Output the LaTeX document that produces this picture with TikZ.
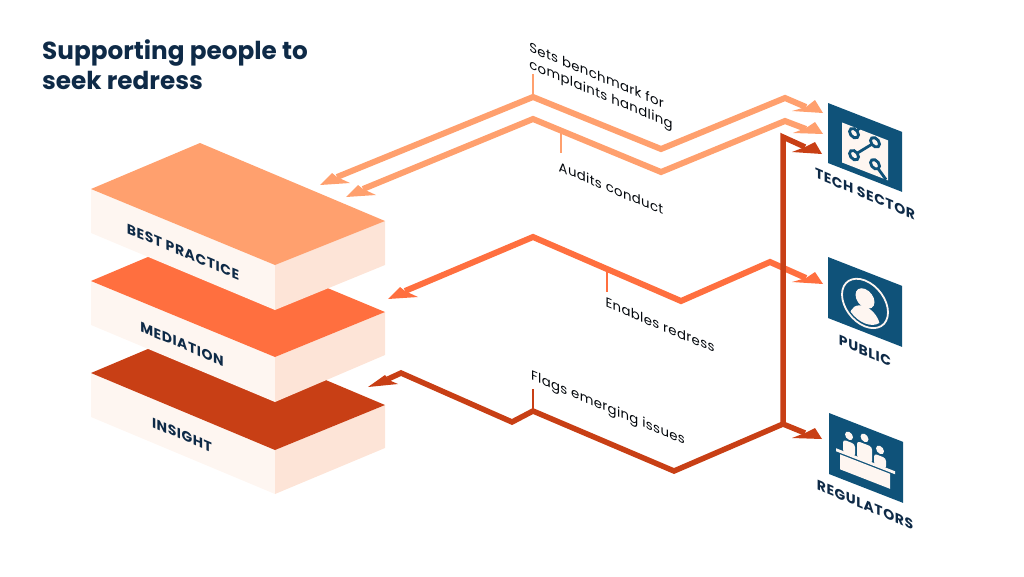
\documentclass[tikz,border=0pt]{standalone}
\usepackage{fontspec}
\setmainfont{Poppins}[LetterSpace=2.5]
\newfontfamily\headfont{Poppins}
\newfontfamily\capsfont{Poppins}[LetterSpace=4]
\definecolor{navy}{HTML}{0E2A47}
\definecolor{iconblue}{HTML}{0F5279}
\definecolor{paper}{HTML}{FEF6F1}
\definecolor{sidepaper}{HTML}{FDE4D7}
\definecolor{bestcol}{HTML}{FFA06E}
\definecolor{medcol}{HTML}{FF6F3F}
\definecolor{inscol}{HTML}{C83F15}

% tip, lower barb, notch, upper barb
\newcommand{\arrowtip}[5]{\fill[#1] (#2) -- (#3) -- (#4) -- (#5) -- cycle;}

\begin{document}
\begin{tikzpicture}[x=1pt,y=-1pt,
    route/.style={line width=6pt,miter limit=10},
    tick/.style={line width=1.6pt},
    edgelabel/.style={yslant=-0.42,transform shape,text=black!85!navy,font=\fontsize{13.3}{17}\selectfont,inner sep=0pt,align=left},
    slablabel/.style={yslant=-0.42,transform shape,text=navy,font=\capsfont\fontsize{14}{15}\selectfont\bfseries,inner sep=0pt},
    iconlabel/.style={yslant=-0.42,transform shape,text=navy,font=\capsfont\fontsize{14}{15}\selectfont\bfseries,inner sep=0pt},
    iconplate/.style={fill=iconblue},
    iconline/.style={draw=iconblue,line width=2.8pt},
    ]
    \useasboundingbox (0,0) rectangle (1024,576);

    \node[anchor=north west,text=navy,inner sep=0pt,align=left,font=\headfont\fontsize{24.7}{30}\selectfont\bfseries] (title) at (42,40) {Supporting people to\\seek redress};

    % slabs, back to front
    \fill[paper] (91,373) -- (275,450) -- (275,494) -- (91,417) -- cycle;
    \fill[sidepaper] (275,450) -- (385,405) -- (385,448) -- (275,494) -- cycle;
    \fill[inscol] (91,373) -- (200,327) -- (385,405) -- (275,450) -- cycle;

    \fill[paper] (91,281) -- (275,357) -- (275,402) -- (91,325) -- cycle;
    \fill[sidepaper] (275,357) -- (385,312) -- (385,355) -- (275,402) -- cycle;
    \fill[medcol] (91,281) -- (200,235) -- (385,312) -- (275,357) -- cycle;

    \fill[paper] (91,189) -- (275,265) -- (275,310) -- (91,233) -- cycle;
    \fill[sidepaper] (275,265) -- (385,221) -- (385,265) -- (275,310) -- cycle;
    \fill[bestcol] (91,189) -- (200,143) -- (385,221) -- (275,265) -- cycle;

    \node[slablabel] (best) at (183,252) {BEST PRACTICE};
    \node[slablabel] (mediation) at (182,344) {MEDIATION};
    \node[slablabel] (insight) at (182,435) {INSIGHT};

    % first light route
    \coordinate (setsend) at (337,177);
    \coordinate (setspeak) at (533,97);
    \coordinate (setslow) at (661,149);
    \coordinate (setshigh) at (785,98);
    \coordinate (setstech) at (806,107);
    \draw[route,bestcol] (setsend) -- (setspeak) -- (setslow) -- (setshigh) -- (setstech);
    \arrowtip{bestcol}{320,185}{350,183}{337,177}{332,173}
    \arrowtip{bestcol}{823,113}{792,111}{806,107}{815,100}
    \draw[tick,bestcol] (533,74) -- (setspeak);

    % second light route
    \coordinate (auditsend) at (363,189);
    \coordinate (auditspeak) at (533,119);
    \coordinate (auditslow) at (661,172);
    \coordinate (auditshigh) at (785,121);
    \coordinate (auditstech) at (806,129);
    \draw[route,bestcol] (auditsend) -- (auditspeak) -- (auditslow) -- (auditshigh) -- (auditstech);
    \arrowtip{bestcol}{346,197}{376,195}{363,189}{358,185}
    \arrowtip{bestcol}{823,134}{793,133}{806,128}{815,122}
    \draw[tick,bestcol] (561,131) -- (561,153);

    % mediation route
    \coordinate (enablesend) at (405,291);
    \coordinate (enablespeak) at (533,237);
    \coordinate (enableslow) at (681,301);
    \coordinate (enableshigh) at (770,262);
    \coordinate (enablespub) at (806,278);
    \draw[route,medcol] (enablesend) -- (enablespeak) -- (enableslow) -- (enableshigh) -- (enablespub);
    \arrowtip{medcol}{388,299}{418,297}{405,291}{400,287}
    \arrowtip{medcol}{823,284}{792,282}{806,278}{815,272}
    \draw[tick,medcol] (607,272) -- (607,292);

    % insight route, with branch to the tech sector
    \coordinate (flagsend) at (388,379);
    \coordinate (flagstop) at (401,373);
    \coordinate (flagsdip) at (512,422);
    \coordinate (flagspeak) at (533,411);
    \coordinate (flagslow) at (674,471);
    \coordinate (flagsfork) at (783,424);
    \coordinate (flagsreg) at (805,433);
    \coordinate (flagscorner) at (783,137);
    \coordinate (flagstech) at (805,147);
    \draw[route,inscol,line width=5.5pt] (flagsend) -- (flagstop) -- (flagsdip) -- (flagspeak) -- (flagslow) -- (flagsfork) -- (flagsreg);
    \draw[route,inscol,line width=5.5pt] (flagsfork) -- (flagscorner) -- (flagstech);
    \arrowtip{inscol}{368,387}{398,384}{391,381}{385,375}
    \arrowtip{inscol}{822,439}{792,438}{805,433}{815,428}
    \arrowtip{inscol}{822,154}{792,152}{805,147}{815,142}
    \draw[tick,inscol] (533,389) -- (flagspeak);

    % route labels
    \node[edgelabel] (sets) at (601,87) {Sets benchmark for\\complaints handling};
    \node[edgelabel] (audits) at (611,188) {Audits conduct};
    \node[edgelabel] (enables) at (660,325) {Enables redress};
    \node[edgelabel] (flags) at (608,409) {Flags emerging issues};

    % tech sector icon
    \begin{scope}[shift={(828,103)},yslant=-0.39]
        \fill[iconplate] (0,0) rectangle (74,60);
        \fill[paper] (14,14) rectangle (60,54);
        \draw[iconline] (26,20) -- (37,6) (47,21) -- (26,42) (47,43) -- (58,54);
        \filldraw[iconline,fill=paper] (26,20) circle (4.5);
        \filldraw[iconline,fill=paper] (47,21) circle (4.5);
        \filldraw[iconline,fill=paper] (26,42) circle (4.5);
        \filldraw[iconline,fill=paper] (47,43) circle (4.5);
    \end{scope}
    \node[iconlabel] (tech) at (865,194) {TECH SECTOR};

    % public icon
    \begin{scope}[shift={(828,257)},yslant=-0.39]
        \fill[iconplate] (0,0) rectangle (74,61);
        \draw[paper,line width=1.8pt] (37,32) circle (23);
        \fill[paper] (37,27) circle (9.5);
        \begin{scope}
            \clip (37,32) circle (20);
            \fill[paper] (37,50) ellipse (15 and 15);
        \end{scope}
    \end{scope}
    \node[iconlabel] (public) at (865,351) {PUBLIC};

    % regulators icon
    \begin{scope}[shift={(829,413)},yslant=-0.39]
        \fill[iconplate] (0,0) rectangle (74,61);
        \fill[paper] (20,15) circle (4);
        \fill[paper] (35.5,11) circle (4);
        \fill[paper] (51,17) circle (4);
        \fill[paper,rounded corners=3pt] (14,21) rectangle (26,34);
        \fill[paper,rounded corners=3pt] (28,17) rectangle (43,34);
        \fill[paper,rounded corners=3pt] (45,23) rectangle (57,34);
        \fill[paper] (7,32.5) rectangle (66,35.5);
        \fill[paper] (11,37) rectangle (61,52);
    \end{scope}
    \node[iconlabel] (regulators) at (865,505) {REGULATORS};
\end{tikzpicture}
\end{document}
